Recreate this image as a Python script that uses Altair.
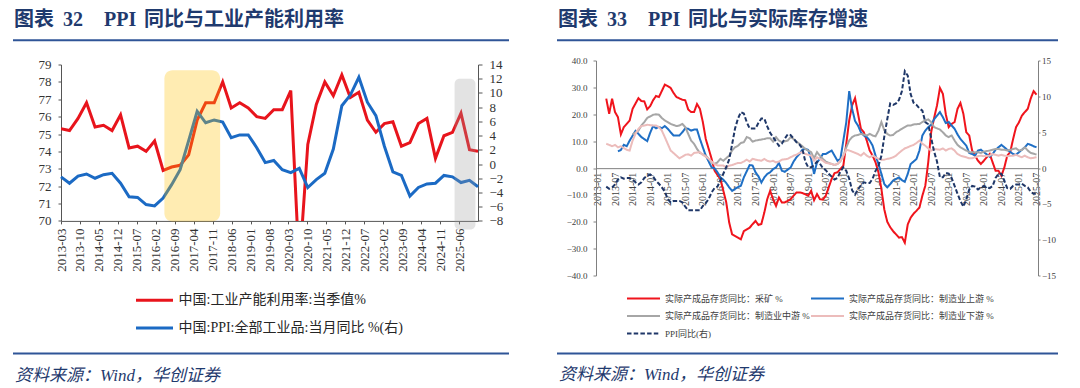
import json
import altair as alt
import pandas as pd

# ---------------- text ----------------
L_TITLE = ["图表", "32", "PPI", "同比与工业产能利用率"]
R_TITLE = ["图表", "33", "PPI", "同比与实际库存增速"]
SOURCE = "资料来源：Wind，华创证券"

# ---------------- panel 32 data (quarterly, 2013Q1 .. 2025Q2) ----------------
L_SERIES = ["中国:工业产能利用率:当季值%", "中国:PPI:全部工业品:当月同比 %(右)"]
CAP_UTIL = [75.3, 75.2, 75.9, 76.8, 75.4, 75.5, 75.2, 76.1, 74.2, 74.3, 74.0, 74.6,
            72.9, 73.1, 73.2, 73.8, 75.8, 76.8, 76.8, 78.0, 76.5, 76.8, 76.5, 76.0,
            75.9, 76.4, 76.4, 77.5, 67.3, 74.4, 76.7, 78.0, 77.2, 78.4, 77.1, 77.4,
            75.8, 75.1, 75.6, 75.7, 74.3, 74.5, 75.6, 75.9, 73.6, 74.9, 75.1, 76.2,
            74.1, 74.0]
PPI_Q = [-1.8, -2.7, -1.7, -1.4, -2.0, -1.5, -1.3, -2.7, -4.6, -4.7, -5.7, -5.9,
         -4.8, -2.9, -0.8, 3.3, 7.4, 5.8, 6.2, 5.9, 3.7, 4.1, 4.1, 2.3,
         0.2, 0.5, -0.8, -1.2, -0.6, -3.3, -2.2, -1.3, 2.1, 8.2, 9.7, 12.2,
         8.7, 6.8, 2.5, -1.1, -1.6, -4.5, -3.3, -2.8, -2.7, -1.6, -1.8, -2.6,
         -2.3, -3.2]
X_LABELS_L = ["2013-03", "2013-10", "2014-05", "2014-12", "2015-07", "2016-02",
              "2016-09", "2017-04", "2017-11", "2018-06", "2019-01", "2019-08",
              "2020-03", "2020-10", "2021-05", "2021-12", "2022-07", "2023-02",
              "2023-09", "2024-04", "2024-11", "2025-06"]
# highlight bands: quarter-index units on x, right-axis units on y
BAND_YELLOW = {"q": 12.15, "q2": 18.7, "v": 13.2, "v2": -8.1}
BAND_GRAY = {"q": 46.25, "q2": 48.7, "v": 12.0, "v2": -9.2}

# ---------------- panel 33 data (monthly, index 0 = 2013-01) ----------------
R_SERIES = ["实际产成品存货同比：采矿 %", "实际产成品存货同比：制造业上游 %",
            "实际产成品存货同比：制造业中游 %", "实际产成品存货同比：制造业下游 %",
            "PPI同比(右)"]
MINING = [(3, 25.8), (4, 20.2), (5, 25.8), (6, 20.8), (7, 18.9), (8, 12.5), (9, 15.2), (11, 17.7),
          (12, 22.0), (14, 26.0), (15, 24.9), (16, 24.8), (17, 21.8), (18, 23.0), (19, 25.2),
          (20, 26.8), (21, 26.4), (23, 31.0), (24, 30.5), (25, 29.8), (26, 27.9), (27, 26.4),
          (29, 25.4), (30, 25.2), (31, 21.8), (32, 20.8), (33, 20.8), (34, 23.8), (35, 22.0),
          (36, 17.1), (37, 10.8), (39, 3.4), (40, -1.0), (42, -4.1), (44, -12.8), (45, -20.3),
          (46, -24.7), (48, -25.9), (49, -26.5), (50, -23.5), (52, -22.2), (53, -20.9),
          (54, -19.7), (55, -21.2), (56, -20.8), (57, -16.6), (58, -11.6), (59, -8.5),
          (60, -11.6), (61, -14.1), (62, -11.0), (63, -12.8), (64, -12.8), (65, -12.2),
          (66, -11.6), (67, -10.3), (68, -9.1), (69, -9.1), (70, -9.3), (72, -10.3), (73, -8.5),
          (74, -12.0), (75, -9.7), (76, -11.6), (77, -11.8), (78, -10.3), (79, -7.2), (80, -4.1),
          (81, -1.9), (82, -1.6), (84, 0.9), (85, 9.0), (86, 17.7), (87, 23.3), (88, 26.0),
          (89, 20.2), (90, 14.6), (91, 13.3), (92, 10.2), (93, 6.5), (94, 4.6), (95, 2.1),
          (96, -1.6), (97, -7.8), (98, -15.5), (99, -20.0), (100, -22.0), (101, -23.5),
          (102, -24.7), (103, -25.9), (104, -25.7), (105, -27.8), (106, -21.0), (107, -18.5),
          (108, -17.0), (109, -15.9), (110, -14.7), (111, -10.3), (112, -6.6), (113, 2.1),
          (114, 13.3), (115, 18.6), (116, 23.3), (117, 29.8), (118, 27.6), (119, 20.0),
          (120, 15.2), (121, 16.4), (122, 17.1), (123, 22.0), (124, 24.2), (125, 20.2),
          (126, 13.3), (127, 12.1), (128, 6.5), (130, 2.7), (131, 1.5), (132, 2.7), (133, 4.0),
          (134, 5.2), (135, 2.1), (136, -1.0), (137, -1.0), (138, -2.9), (139, 0.2), (140, 4.6),
          (141, 5.9), (142, 10.8), (143, 15.2), (144, 17.0), (145, 19.5), (146, 20.8),
          (147, 22.0), (148, 25.8), (149, 28.6), (150, 27.3)]
UPSTREAM = [(7, 6.2), (8, 6.7), (9, 8.6), (10, 8.1), (11, 10.2), (13, 13.8), (14, 12.7), (15, 11.5),
            (17, 10.0), (18, 13.1), (19, 15.6), (20, 14.8), (21, 15.3), (22, 14.8), (23, 15.6),
            (24, 14.6), (25, 13.3), (26, 12.1), (28, 12.1), (29, 13.3), (30, 14.8), (31, 14.6),
            (32, 13.9), (33, 14.3), (34, 14.3), (35, 10.8), (36, 7.7), (37, 4.6), (39, 0.2),
            (40, -0.1), (41, -1.6), (42, -3.5), (43, -4.4), (44, -5.6), (45, -7.2), (46, -8.5),
            (47, -7.8), (48, -7.1), (49, -6.6), (50, -3.5), (52, 1.1), (53, 0.9), (54, -1.6),
            (55, -3.1), (56, -5.4), (57, -3.5), (58, -2.2), (59, -1.6), (60, -0.4), (61, 0.2),
            (62, 1.9), (63, -1.0), (64, -1.4), (66, 0.2), (67, 2.4), (68, 4.0), (69, 5.2),
            (70, 6.8), (71, 7.1), (72, 6.7), (73, 3.4), (74, -2.2), (75, 2.1), (76, 3.4),
            (77, 5.2), (78, 5.2), (79, 5.9), (80, 6.5), (81, 4.6), (82, 2.7), (83, 3.4),
            (84, 10.2), (85, 17.0), (86, 28.6), (87, 22.0), (88, 17.5), (89, 15.8), (90, 13.3),
            (91, 12.1), (92, 11.5), (93, 10.2), (94, 8.3), (95, 4.6), (96, 1.5), (97, -2.2),
            (98, -6.0), (99, -7.2), (100, -6.0), (101, -4.7), (102, -4.1), (103, -3.5),
            (104, -4.5), (105, -5.1), (106, -2.2), (107, 1.5), (108, 2.4), (109, 3.4), (110, 6.5),
            (111, 12.1), (112, 13.9), (113, 15.2), (114, 16.1), (115, 18.1), (116, 19.5),
            (117, 20.8), (118, 18.9), (119, 16.7), (120, 17.1), (121, 15.8), (122, 14.6),
            (123, 12.5), (124, 10.8), (126, 8.3), (127, 5.6), (128, 5.2), (129, 4.6), (130, 6.5),
            (131, 6.8), (132, 5.9), (134, 4.2), (135, 5.2), (136, 6.8), (137, 7.7), (138, 8.6),
            (139, 7.7), (140, 6.8), (142, 5.2), (143, 4.9), (144, 5.9), (145, 6.8), (146, 7.7),
            (147, 9.0), (148, 8.6), (149, 8.1), (150, 7.7)]
MIDSTREAM = [(12, 12.5), (14, 13.9), (15, 15.8), (16, 17.1), (17, 18.6), (19, 19.8), (20, 20.0),
             (21, 19.8), (22, 18.6), (23, 17.7), (24, 17.1), (25, 16.4), (27, 15.6), (28, 15.8),
             (29, 16.4), (30, 15.2), (31, 12.7), (32, 10.2), (33, 9.0), (34, 7.1), (35, 5.6),
             (37, 4.6), (38, 3.4), (39, 2.1), (40, 1.5), (41, 2.1), (42, 3.4), (43, 2.7), (45, 4.6),
             (46, 6.5), (47, 7.7), (48, 8.3), (49, 9.3), (50, 9.6), (51, 11.5), (52, 11.1),
             (53, 9.8), (54, 10.2), (55, 10.4), (57, 10.8), (58, 11.1), (59, 11.1), (60, 9.8),
             (61, 11.5), (62, 10.2), (63, 9.6), (65, 10.2), (66, 11.5), (67, 10.8), (68, 9.8),
             (69, 9.0), (70, 8.1), (71, 7.1), (72, 6.5), (73, 5.9), (74, 3.6), (75, 5.9), (76, 4.6),
             (77, 3.4), (78, 2.4), (79, 1.9), (80, 1.5), (81, 1.1), (82, 1.5), (83, 2.5), (84, 4.5),
             (85, 7.7), (86, 10.2), (87, 11.5), (88, 12.1), (89, 12.3), (90, 12.7), (92, 12.1),
             (93, 12.7), (94, 12.1), (95, 11.8), (96, 13.9), (97, 17.1), (98, 14.0), (99, 12.7),
             (100, 12.1), (101, 12.3), (102, 13.3), (103, 13.9), (104, 14.6), (105, 15.2),
             (106, 15.8), (107, 15.8), (108, 16.2), (110, 16.4), (111, 17.1), (112, 17.7),
             (113, 18.1), (114, 17.1), (115, 15.2), (117, 14.3), (118, 13.3), (119, 12.1),
             (120, 11.5), (121, 12.1), (122, 10.2), (123, 8.6), (124, 7.7), (126, 6.5), (127, 5.9),
             (128, 5.9), (129, 5.9), (130, 5.9), (131, 5.6), (132, 6.1), (134, 6.5), (135, 6.8),
             (136, 7.1), (137, 7.1), (138, 6.8), (139, 6.8), (140, 6.5), (142, 7.1), (143, 7.3),
             (144, 6.5), (145, 6.7), (146, 7.7), (147, 6.5), (148, 5.6), (150, 5.0)]
DOWNSTREAM = [(3, 9.0), (4, 8.6), (5, 8.1), (6, 8.6), (7, 7.7), (8, 8.1), (10, 6.8), (11, 6.5),
              (12, 10.2), (13, 12.7), (14, 14.6), (15, 15.6), (16, 15.8), (17, 16.1), (19, 15.8),
              (20, 15.8), (21, 15.2), (22, 13.9), (23, 11.5), (24, 9.0), (25, 6.5), (27, 4.6),
              (28, 3.6), (29, 4.2), (30, 4.9), (31, 5.1), (32, 4.6), (33, 5.6), (35, 5.9), (36, 4.9),
              (37, 4.2), (38, 3.4), (39, 2.4), (40, 1.5), (41, 0.9), (43, 0.9), (44, 0.2), (45, 0.9),
              (46, 1.1), (47, 1.5), (48, 1.9), (49, 1.9), (50, 2.4), (51, 3.1), (52, 2.4), (53, 3.4),
              (54, 3.1), (56, 2.7), (57, 3.4), (58, 2.7), (59, 2.4), (60, 2.7), (61, 2.1), (62, 2.4),
              (63, 3.1), (65, 3.4), (66, 4.0), (67, 4.6), (68, 4.9), (69, 5.6), (70, 5.9), (71, 5.2),
              (73, 4.6), (74, 2.7), (75, 4.0), (76, 3.4), (77, 2.7), (78, 1.9), (80, 1.5), (81, 1.1),
              (82, 1.5), (83, 2.7), (84, 4.6), (85, 6.8), (86, 6.5), (87, 6.1), (89, 5.2), (90, 4.6),
              (91, 5.6), (92, 4.6), (93, 4.0), (94, 4.6), (95, 4.0), (96, 3.4), (97, 3.1), (98, 3.1),
              (99, 3.4), (100, 3.6), (101, 4.0), (102, 4.6), (103, 5.6), (104, 6.5), (105, 7.3),
              (106, 7.7), (107, 8.2), (108, 8.6), (109, 9.3), (110, 10.2), (111, 9.0), (112, 8.3),
              (113, 7.3), (114, 6.5), (115, 7.1), (117, 6.8), (118, 7.3), (119, 6.5), (120, 7.1),
              (121, 7.3), (122, 6.5), (123, 5.2), (124, 4.6), (126, 4.0), (127, 3.6), (128, 3.6),
              (129, 4.0), (130, 4.4), (131, 4.6), (132, 4.4), (134, 4.6), (135, 5.2), (136, 4.9),
              (137, 4.6), (138, 4.9), (139, 4.6), (140, 4.4), (142, 4.6), (143, 4.9), (144, 4.4),
              (145, 4.0), (146, 4.6), (147, 4.0), (148, 3.6), (150, 4.0)]
PPI_M_START = 3  # 2013-04
PPI_M = [-2.6, -2.9, -2.7, -2.3, -1.6, -1.3, -1.5, -1.4, -1.4,
         -1.6, -2.0, -2.3, -2.0, -1.4, -1.1, -0.9, -1.2, -1.8, -2.2, -2.7, -3.3,
         -4.3, -4.8, -4.6, -4.6, -4.6, -4.8, -5.4, -5.9, -5.9, -5.9, -5.9, -5.9,
         -5.3, -4.9, -4.3, -3.4, -2.8, -2.6, -1.7, -0.8, 0.1, 1.2, 3.3, 5.5,
         6.9, 7.8, 7.6, 6.4, 5.5, 5.5, 5.5, 6.3, 6.9, 6.9, 5.8, 4.9,
         4.3, 3.7, 3.1, 3.4, 4.1, 4.7, 4.6, 4.1, 3.6, 3.3, 2.7, 0.9,
         0.1, 0.1, 0.4, 0.9, 0.6, 0.0, -0.3, -0.8, -1.2, -1.6, -1.4, -0.5,
         0.1, -0.4, -1.5, -3.1, -3.7, -3.0, -2.4, -2.0, -2.1, -2.1, -1.5, -0.4,
         0.3, 1.7, 4.4, 6.8, 9.0, 8.8, 9.0, 9.5, 10.7, 13.5, 12.9, 10.3,
         9.1, 8.8, 8.3, 8.0, 6.4, 6.1, 4.2, 2.3, 0.9, -1.3, -1.3, -0.7,
         -0.8, -1.4, -2.5, -3.6, -4.6, -5.4, -4.4, -3.0, -2.5, -2.6, -3.0, -2.7,
         -2.5, -2.7, -2.8, -2.5, -1.4, -0.8, -0.8, -1.8, -2.8, -2.9, -2.5, -2.3,
         -2.3, -2.2, -2.5, -2.7, -3.3, -3.6, -3.6]
X_LABELS_R = ["2013-01", "2013-07", "2014-01", "2014-07", "2015-01", "2015-07", "2016-01",
              "2016-07", "2017-01", "2017-07", "2018-01", "2018-07", "2019-01", "2019-07",
              "2020-01", "2020-07", "2021-01", "2021-07", "2022-01", "2022-07", "2023-01",
              "2023-07", "2024-01", "2024-07", "2025-01", "2025-07"]

# ---------------- styles ----------------
NAVY = "#1f3a6e"
RULE_BLUE = "#2f5597"
SERIF = "Liberation Serif, Noto Sans CJK SC"
L_COLORS = ["#e8141c", "#1b6ac4"]
R_COLORS = ["#f0141c", "#1f6fc5", "#a6a6a6", "#ecbcbb", "#1f3768"]
R_DASHES = [[1, 0], [1, 0], [1, 0], [1, 0], [4.5, 2.2]]
TITLE_Y = -40.7


def one():
    return alt.Data(values=[{"k": 1}])


def txt(s, x, y, size, color, weight="normal", style="normal"):
    return alt.Chart(one()).mark_text(
        text=s, align="left", baseline="middle", fontSize=size, font=SERIF,
        color=color, fontWeight=weight, fontStyle=style
    ).encode(x=alt.value(x), y=alt.value(y))


def hrule(x1, x2, y):
    return alt.Chart(one()).mark_rule(color=RULE_BLUE, strokeWidth=2).encode(
        x=alt.value(x1), x2=alt.value(x2), y=alt.value(y))


def title_parts(parts, x0, y):
    offs = [0, 49, 90, 130]
    return [txt(p, x0 + o, y, 20, NAVY, weight="bold") for p, o in zip(parts, offs)]


# ================= panel 32 =================
# The view's top is shared with panel 33; the value axes start 4px lower.
L_H = 160.4
L_TOP_GAP = 4
N = len(CAP_UTIL)
L_AXIS_MONTHS = 154
L_TICK_POS = [k * 7 * (N - 1) / L_AXIS_MONTHS for k in range(len(X_LABELS_L))]
df_red = pd.DataFrame({"q": list(range(N)), "v": CAP_UTIL, "s": L_SERIES[0]})
df_blue = pd.DataFrame({"q": list(range(N)), "v": PPI_Q, "s": L_SERIES[1]})

axis_common = dict(labelFont=SERIF, labelColor="#333333", domainColor="#555555",
                   tickColor="#555555", grid=False, labelFontSize=13, labelOverlap=False)

x_left = alt.X(
    "q:Q", title=None,
    scale=alt.Scale(domain=[0, N - 1], nice=False, zero=False),
    axis=alt.Axis(values=L_TICK_POS,
                  labelExpr=f"{json.dumps(X_LABELS_L)}[round(datum.value*{L_AXIS_MONTHS}/{7 * (N - 1)})]",
                  labelAngle=270, tickSize=3, labelPadding=4,
                  labelFlush=False, **axis_common))
y_left = alt.Y("v:Q", title=None,
               scale=alt.Scale(domain=[70, 79], range=[L_H, L_TOP_GAP], nice=False, zero=False),
               axis=alt.Axis(values=list(range(70, 80)), tickSize=3, labelPadding=7, **axis_common))
y_right = alt.Y("v:Q", title=None,
                scale=alt.Scale(domain=[-8, 14], range=[L_H, L_TOP_GAP], nice=False, zero=False),
                axis=alt.Axis(orient="right", values=list(range(-8, 15, 2)), tickSize=4,
                              labelPadding=7, **axis_common))

legend_left = alt.Legend(title=None, orient="none", legendX=73.5, legendY=231.7,
                         direction="vertical", symbolType="stroke", symbolSize=1369,
                         symbolStrokeWidth=3, clipHeight=16, rowPadding=11.7,
                         labelFont=SERIF, labelFontSize=14, labelColor="#262626",
                         labelOffset=4, labelLimit=400, padding=0)
color_left = alt.Color("s:N", scale=alt.Scale(domain=L_SERIES, range=L_COLORS),
                       legend=legend_left)

red = alt.Chart(df_red).mark_line(clip=True, strokeWidth=3).encode(
    x=x_left, y=y_left, color=color_left)
blue = alt.Chart(df_blue).mark_line(strokeWidth=3).encode(
    x=x_left, y=y_right, color=color_left)
yellow = alt.Chart(alt.Data(values=[BAND_YELLOW])).mark_rect(
    color="#ffc000", opacity=0.3, cornerRadius=8).encode(
    x=x_left, x2="q2:Q", y=y_right, y2="v2:Q")
gray = alt.Chart(alt.Data(values=[BAND_GRAY])).mark_rect(
    color="#999999", opacity=0.28, cornerRadius=5).encode(
    x=x_left, x2="q2:Q", y=y_right, y2="v2:Q")

right_group = alt.layer(blue, yellow, gray)

deco_left = title_parts(L_TITLE, -47, TITLE_Y) + [
    hrule(-48, 448, -20.3),
    hrule(-48, 448, 293),
    txt(SOURCE, -46, 315.7, 17, NAVY, style="italic"),
]

left_panel = alt.layer(red, right_group, *deco_left).resolve_scale(y="independent").properties(
    width=417, height=L_H)

# ================= panel 33 =================
rows = []
for name, series in zip(R_SERIES[:4], [MINING, UPSTREAM, MIDSTREAM, DOWNSTREAM]):
    for m, v in series:
        rows.append({"m": m, "v": v, "s": name})
df_inv = pd.DataFrame(rows)
df_ppi = pd.DataFrame({"m": list(range(PPI_M_START, PPI_M_START + len(PPI_M))),
                       "v": PPI_M, "s": R_SERIES[4]})

axis_r = dict(labelFont=SERIF, labelColor="#404040", domainColor="#808080",
              tickColor="#808080", grid=False, labelOverlap=False)

x_right = alt.X(
    "m:Q", title=None,
    scale=alt.Scale(domain=[-0.5, 150.5], nice=False, zero=False),
    axis=alt.Axis(values=list(range(0, 151, 6)),
                  labelExpr=f"{json.dumps(X_LABELS_R)}[round(datum.value/6)]",
                  labelAngle=270, ticks=False, labelPadding=4, offset=-107.35,
                  labelFontSize=10, labelFlush=False, **axis_r))

legend_right = alt.Legend(title=None, orient="none", legendX=30, legendY=232,
                          direction="horizontal", columns=2, symbolType="stroke",
                          symbolSize=1089, symbolStrokeWidth=2, clipHeight=12,
                          rowPadding=5.5, columnPadding=0, labelFont=SERIF,
                          labelFontSize=9, labelColor="#404040", labelOffset=4,
                          labelLimit=400, padding=0)
color_right = alt.Color("s:N", scale=alt.Scale(domain=R_SERIES, range=R_COLORS),
                        legend=legend_right)
dash_right = alt.StrokeDash("s:N", scale=alt.Scale(domain=R_SERIES, range=R_DASHES),
                            legend=legend_right)

inv = alt.Chart(df_inv).mark_line(strokeWidth=2).encode(
    x=x_right,
    y=alt.Y("v:Q", title=None, scale=alt.Scale(domain=[-40, 40], nice=False, zero=False),
            axis=alt.Axis(values=list(range(-40, 41, 10)), format=".1f", tickSize=3,
                          labelPadding=6, labelFontSize=9, **axis_r)),
    color=color_right, strokeDash=dash_right)

ppi = alt.Chart(df_ppi).mark_line(strokeWidth=2).encode(
    x=x_right,
    y=alt.Y("v:Q", title=None, scale=alt.Scale(domain=[-15, 15], nice=False, zero=False),
            axis=alt.Axis(orient="right", values=list(range(-15, 16, 5)), tickSize=2,
                          labelPadding=1.5, labelFontSize=9, **axis_r)),
    color=color_right, strokeDash=dash_right)

deco_right = title_parts(R_TITLE, -38, TITLE_Y) + [
    hrule(-39, 462, -20.3),
    hrule(-39, 462, 293),
    txt(SOURCE, -37, 314.7, 17, NAVY, style="italic"),
]

right_panel = alt.layer(inv, ppi, *deco_right).resolve_scale(y="independent").properties(
    width=442, height=215)

chart = alt.hconcat(left_panel, right_panel, spacing=46).resolve_scale(
    color="independent", strokeDash="independent"
).properties(
    padding={"left": 4, "top": 1.5, "right": 0, "bottom": 0}, background="white"
).configure_view(stroke=None)

chart.save("out.html", embed_options={"renderer": "svg", "actions": False})
